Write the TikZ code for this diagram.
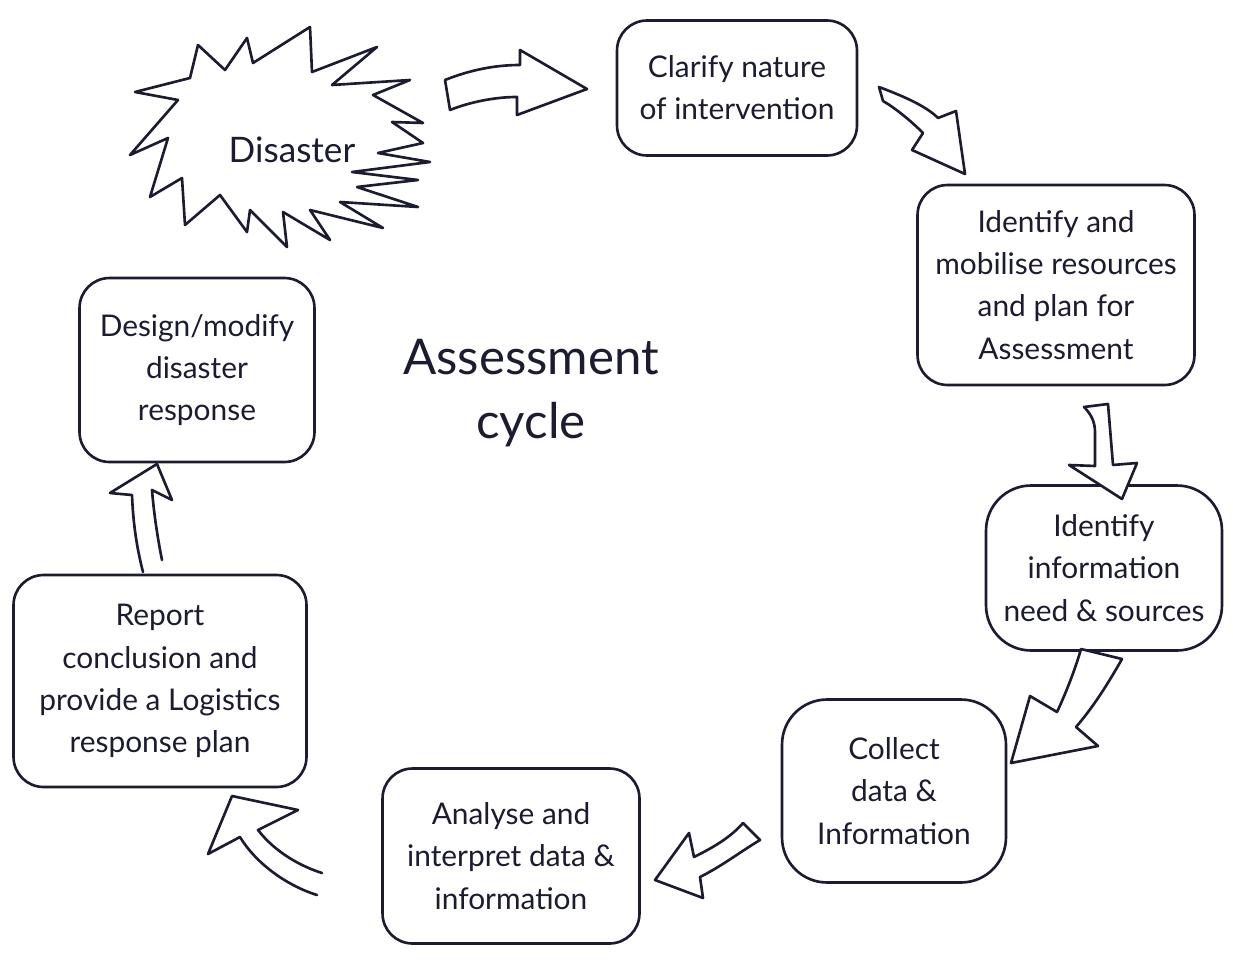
\documentclass[tikz,border=0pt]{standalone}
\usepackage{fontspec}
\setmainfont{Lato}
\definecolor{ink}{RGB}{28,28,48}
\begin{document}
\begin{tikzpicture}[x=0.02cm, y=-0.02cm, line join=round, line cap=round,
  pen/.style={draw=ink, line width=1.5pt},
  stepbox/.style={pen, rounded corners=0.6cm, align=center, text=ink,
    font=\fontsize{17}{24}\selectfont, inner sep=0pt},
  blockarrow/.style={pen, fill=white},
  title/.style={align=center, text=ink, font=\fontsize{28}{36}\selectfont}]

\useasboundingbox[fill=white] (0,0) rectangle (1233,963);

% the disaster burst
\draw[pen] (135,92) -- (178,100) -- (130,155) -- (168,138) -- (150,197)
  -- (182,178) -- (185,225) -- (220,195) -- (247,232) -- (250,210)
  -- (287,247) -- (283,212) -- (330,240) -- (310,210) -- (383,228)
  -- (340,202) -- (418,207) -- (357,187) -- (418,180) -- (352,172)
  -- (430,162) -- (378,153) -- (423,143) -- (392,122) -- (423,123)
  -- (373,95) -- (410,80) -- (332,85) -- (377,47) -- (312,72)
  -- (310,27) -- (253,63) -- (247,38) -- (225,70) -- (198,45)
  -- (190,78) -- cycle;
\node[text=ink, font=\fontsize{20}{24}\selectfont] (dis) at (292,150) {Disaster};

% steps of the cycle
\node[stepbox, minimum width=4.8cm, minimum height=2.7cm] (clar) at (737,88)
  {Clarify nature\\of intervention};
\node[stepbox, minimum width=5.54cm, minimum height=4.0cm] (ident) at (1056,285)
  {Identify and\\mobilise resources\\and plan for\\Assessment};
\node[stepbox, minimum width=4.72cm, minimum height=3.3cm, rounded corners=0.9cm] (info) at (1104,568)
  {Identify\\information\\need \& sources};
\node[stepbox, minimum width=4.48cm, minimum height=3.66cm, rounded corners=0.9cm] (coll) at (894,791)
  {Collect\\data \&\\Information};
\node[stepbox, minimum width=5.14cm, minimum height=3.5cm] (anal) at (511,856)
  {Analyse and\\interpret data \&\\information};
\node[stepbox, minimum width=5.86cm, minimum height=4.24cm] (rep) at (160,681)
  {Report\\conclusion and\\provide a Logistics\\response plan};
\node[stepbox, minimum width=4.7cm, minimum height=3.68cm] (des) at (197,370)
  {Design/modify\\disaster\\response};

\node[title] (cyc) at (531,393) {Assessment\\cycle};

% hollow arrows between the steps
\draw[blockarrow] (445,80) .. controls (470,70) and (495,65) .. (520,65)
  -- (520,50) -- (587,89) -- (517,115) -- (517,97)
  .. controls (495,97) and (470,102) .. (450,110) -- cycle;
\draw[blockarrow] (879,87) .. controls (900,95) and (925,105) .. (938,118)
  -- (956,111) -- (965,174) -- (912,150) -- (923,133)
  .. controls (910,120) and (895,108) .. (883,101) -- cycle;
\draw[blockarrow] (1084,407) .. controls (1091,414) and (1095,422) .. (1095,432)
  -- (1095,466) -- (1069,465) -- (1122,499) -- (1137,463) -- (1113,465)
  -- (1108,404) -- cycle;
\draw[blockarrow] (1081,649) .. controls (1075,670) and (1065,695) .. (1057,712)
  -- (1030,696) -- (1011,763) -- (1098,746) -- (1076,727)
  .. controls (1095,705) and (1110,680) .. (1122,659) -- cycle;
\draw[blockarrow] (743,823) -- (760,840) .. controls (740,852) and (722,866) .. (700,877)
  -- (703,898) -- (655,880) -- (689,833) -- (694,857)
  .. controls (712,848) and (730,838) .. (743,823);
\draw[blockarrow] (317,895) .. controls (285,885) and (255,862) .. (240,837)
  -- (208,854) -- (232,796) -- (298,810) -- (258,830)
  .. controls (275,852) and (300,866) .. (322,873);
\draw[blockarrow] (143,572) .. controls (136,545) and (133,520) .. (132,495)
  -- (110,493) -- (157,464) -- (172,500) -- (152,490)
  .. controls (154,515) and (158,540) .. (162,560);
\end{tikzpicture}
\end{document}
